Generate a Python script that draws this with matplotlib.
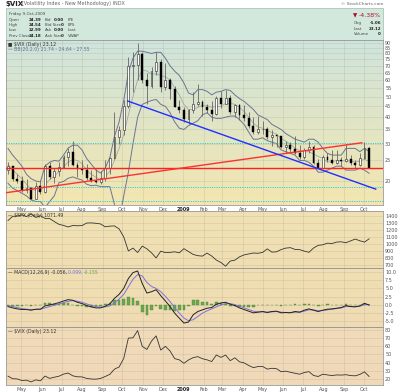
import numpy as np
import pandas as pd
import matplotlib
matplotlib.use("Agg")
import matplotlib.pyplot as plt
from matplotlib.patches import Rectangle

W, H = 400, 392

# Weekly samples (Friday of each week)
weeks = pd.date_range("2008-04-11", "2009-10-09", freq="W-FRI")

vix_close = [23.5, 20.4, 20.1,
             18.2, 18.6, 16.5, 19.0, 17.8,
             23.6, 20.8, 22.2, 23.4,
             26.0, 27.3, 23.9, 22.7,
             22.6, 20.7, 20.0, 19.8, 20.7,
             23.1, 25.7, 32.1, 34.7,
             45.1, 69.95, 70.3, 79.1, 59.9,
             56.1, 66.3, 72.7, 55.3,
             59.9, 54.3, 44.9, 43.4,
             39.2, 43.3, 46.1, 47.3, 44.8,
             43.4, 41.3, 49.3, 46.4,
             49.3, 42.4, 45.9, 41.0,
             39.7, 36.5, 33.9, 35.2,
             35.3, 32.1, 33.1, 32.6, 28.9,
             29.6, 28.2, 27.0, 25.9,
             27.95, 29.0, 24.3, 23.1, 25.9,
             25.0, 24.2, 25.0, 24.8,
             25.3, 24.2, 23.9, 25.6,
             28.7, 23.12]
vix_high = [24.5, 23.5, 21.5,
            21.0, 20.5, 18.8, 19.8, 20.2,
            24.0, 24.5, 23.0, 24.5,
            26.6, 28.5, 31.0, 24.5,
            25.0, 24.0, 22.5, 22.8, 22.4,
            25.0, 26.0, 42.2, 36.5,
            48.4, 76.9, 81.2, 89.5, 81.0,
            64.5, 69.0, 81.5, 75.0,
            72.0, 61.0, 56.0, 48.0,
            44.5, 43.5, 52.6, 57.4, 48.0,
            46.0, 47.5, 50.3, 53.0,
            53.7, 51.0, 46.0, 46.0,
            45.5, 42.5, 40.0, 40.5,
            38.5, 36.0, 34.8, 33.5, 32.7,
            31.0, 30.5, 32.5, 29.5,
            28.5, 31.0, 29.5, 25.5, 26.5,
            27.0, 28.0, 28.0, 26.0,
            30.0, 26.5, 25.0, 27.0,
            30.7, 28.8]
vix_low = [21.5, 20.0, 19.5,
           17.8, 17.5, 16.3, 16.4, 17.4,
           17.6, 20.4, 19.5, 21.0,
           23.0, 23.5, 23.5, 20.8,
           21.5, 20.3, 19.8, 19.6, 19.4,
           20.0, 21.5, 25.5, 30.0,
           33.0, 44.0, 52.5, 60.0, 58.0,
           46.0, 55.0, 63.0, 52.5,
           54.0, 49.0, 44.5, 42.0,
           38.0, 37.0, 42.0, 45.0, 40.5,
           42.0, 38.5, 41.0, 44.0,
           46.0, 41.5, 40.0, 39.0,
           38.5, 35.5, 33.5, 33.5,
           33.5, 31.5, 29.3, 28.8, 28.5,
           27.2, 27.5, 26.8, 25.5,
           25.5, 27.0, 24.0, 23.0, 23.0,
           24.5, 24.0, 24.0, 23.5,
           24.5, 23.8, 23.0, 23.5,
           25.3, 22.99]
first_open = 22.5

bb_upper = [28.5, 26.5, 25.0,
            23.5, 21.5, 20.5, 20.0, 19.8,
            23.5, 24.5, 25.0, 24.8,
            26.5, 28.6, 29.5, 29.5,
            28.0, 25.5, 24.0, 22.5, 21.8,
            23.0, 25.8, 32.5, 38.0,
            48.0, 65.0, 76.0, 82.0, 82.0,
            81.0, 80.0, 81.0, 81.0,
            76.0, 70.0, 66.0, 63.0,
            58.0, 52.0, 51.0, 54.0, 54.0,
            53.0, 51.0, 52.5, 53.0,
            54.0, 53.5, 51.0, 49.0,
            47.5, 45.5, 43.5, 41.0,
            40.0, 39.0, 37.0, 36.0, 35.0,
            33.5, 32.5, 31.5, 31.0,
            30.5, 31.5, 31.5, 30.5, 28.5,
            27.0, 26.5, 26.5, 26.5,
            28.5, 28.5, 28.5, 27.5,
            28.5, 27.55]
bb_mid = [24.0, 22.5, 21.5,
          20.5, 19.3, 18.4, 18.0, 17.9,
          19.2, 20.3, 21.0, 22.2,
          23.2, 24.6, 25.2, 25.0,
          24.1, 22.4, 21.5, 20.8, 20.3,
          20.9, 22.3, 25.0, 28.5,
          33.0, 41.0, 50.0, 60.0, 67.0,
          66.0, 64.0, 64.0, 63.0,
          62.0, 60.0, 55.0, 51.0,
          46.0, 43.5, 43.5, 44.5, 45.5,
          45.5, 44.5, 45.0, 45.0,
          46.5, 46.5, 46.0, 44.5,
          42.5, 40.0, 37.5, 36.0,
          35.5, 34.5, 33.9, 33.3, 31.7,
          30.8, 29.8, 28.5, 27.8,
          27.4, 27.5, 26.8, 26.1, 25.6,
          24.6, 24.6, 25.0, 24.8,
          25.0, 24.8, 24.6, 24.8,
          25.4, 24.64]
bb_lower = [19.5, 18.5, 18.0,
            17.5, 17.0, 16.3, 16.0, 16.0,
            15.0, 16.0, 17.0, 19.6,
            19.9, 20.6, 20.9, 20.5,
            20.2, 19.3, 19.0, 19.1, 18.8,
            18.8, 18.8, 15.5, 13.0,
            17.0, 22.0, 30.0, 40.0, 46.0,
            47.0, 48.0, 48.5, 46.0,
            45.0, 42.0, 38.0, 35.5,
            35.0, 36.5, 37.5, 38.5, 41.0,
            42.0, 40.0, 39.5, 39.5,
            40.0, 40.5, 40.5, 39.0,
            37.0, 34.0, 31.5, 31.5,
            32.0, 31.0, 30.5, 30.0, 28.0,
            27.5, 27.0, 26.5, 25.0,
            25.0, 24.5, 23.5, 22.0, 22.0,
            22.5, 23.0, 23.5, 23.5,
            22.5, 22.5, 22.5, 23.0,
            22.5, 21.74]

spx_close = [1332, 1390, 1397,
             1413, 1388, 1425, 1375, 1400,
             1361, 1360, 1317, 1278,
             1262, 1240, 1261, 1257,
             1260, 1296, 1298, 1292, 1283,
             1242, 1252, 1255, 1213,
             1099, 899, 940, 877, 968,
             930, 873, 800, 896,
             876, 879, 887, 872,
             932, 890, 850, 832, 826,
             869, 827, 770, 735,
             683, 756, 768, 816,
             843, 857, 870, 866,
             878, 929, 883, 887, 919,
             940, 946, 921, 918,
             897, 880, 941, 979, 987,
             1010, 1005, 1026, 1029,
             1016, 1042, 1068, 1044,
             1025, 1071.49]

macd_line = [-0.5, -0.9, -1.2,
             -1.4, -1.4, -1.6, -1.3, -1.3,
             -0.3, 0.0, 0.3, 0.7,
             1.2, 1.6, 1.4, 0.8,
             0.4, -0.2, -0.6, -0.9, -0.9,
             -0.4, 0.3, 2.0, 3.2,
             5.0, 8.0, 9.8, 10.3, 6.5,
             3.6, 4.0, 4.6, 2.8,
             1.2, -0.5, -2.5, -4.0,
             -5.5, -5.2, -3.0, -2.0, -1.5,
             -1.0, -0.8, 0.2, 0.6,
             0.8, 0.2, -0.2, -0.9,
             -1.4, -1.9, -2.4, -2.2,
             -2.0, -2.3, -2.0, -1.9, -2.4,
             -2.3, -2.4, -2.0, -2.2,
             -1.6, -1.2, -1.6, -2.0, -1.6,
             -1.3, -1.2, -1.0, -0.8,
             -0.2, -0.5, -0.6, -0.3,
             0.5, -0.056]
macd_signal = [-0.2, -0.5, -0.8,
               -1.1, -1.3, -1.4, -1.4, -1.3,
               -0.9, -0.5, -0.1, 0.3,
               0.7, 1.1, 1.3, 1.1,
               0.8, 0.3, -0.1, -0.5, -0.7,
               -0.6, -0.3, 0.6, 1.8,
               3.2, 5.5, 7.8, 9.2, 8.8,
               6.8, 5.6, 5.0, 4.0,
               2.6, 1.0, -0.8, -2.5,
               -4.0, -4.8, -4.5, -3.5, -2.5,
               -1.8, -1.2, -0.6, 0.0,
               0.4, 0.4, 0.1, -0.4,
               -0.9, -1.4, -1.9, -2.1,
               -2.1, -2.2, -2.1, -2.0, -2.2,
               -2.3, -2.3, -2.2, -2.2,
               -1.9, -1.5, -1.5, -1.8, -1.7,
               -1.5, -1.3, -1.1, -0.9,
               -0.5, -0.5, -0.5, -0.4,
               0.1, 0.099]

# annotation lines drawn on the price panel
red_flat = 23.1
red_trend_dates = ["2008-04-08", "2009-09-28"]
red_trend_vals = [17.6, 30.3]
blue_trend_dates = ["2008-10-09", "2009-10-19"]
blue_trend_vals = [47.7, 18.3]
cyan_levels = [30.2, 18.7, 16.1]

main_ticks = [20, 25, 30, 35, 40, 45, 50, 55, 60, 65, 70, 75, 80, 85, 90]
spx_ticks = [700, 800, 900, 1000, 1100, 1200, 1300, 1400]
macd_ticks = [-5.0, -2.5, 0.0, 2.5, 5.0, 7.5, 10.0]
vix_ticks = [20, 30, 40, 50, 60, 70, 80]

x_start, x_end = pd.Timestamp("2008-04-08"), pd.Timestamp("2009-10-30")
months = pd.date_range("2008-05-01", "2009-10-01", freq="MS")

fig = plt.figure(figsize=(4, 3.92), dpi=100)


def rect(x0, y0, x1, y1):
    return [x0 / W, 1 - y1 / H, (x1 - x0) / W, (y1 - y0) / H]


def fx(x, y):
    return x / W, 1 - y / H


def panel(r, top, bottom):
    bg = fig.add_axes(r, zorder=0)
    c0 = np.array(matplotlib.colors.to_rgb(top))
    c1 = np.array(matplotlib.colors.to_rgb(bottom))
    t = np.linspace(0, 1, 64)[:, None, None]
    bg.imshow(c0 + (c1 - c0) * t, aspect="auto", extent=[0, 1, 0, 1])
    bg.axis("off")
    ax = fig.add_axes(r, zorder=1)
    ax.set_facecolor("none")
    ax.set_xlim(x_start, x_end)
    ax.set_xticks(months)
    ax.yaxis.tick_right()
    ax.tick_params(length=0, labelsize=3.5, colors="#555555", pad=1.5)
    ax.grid(True, color="#a8a890", alpha=0.35, lw=0.5)
    for s in ax.spines.values():
        s.set_color("#9a9a9a")
        s.set_linewidth(0.6)
    return ax


def month_labels(ax):
    labs = ["2009" if m.month == 1 else m.strftime("%b") for m in months]
    ax.set_xticklabels(labs)
    for lab, m in zip(ax.get_xticklabels(), months):
        if m.month == 1:
            lab.set_fontweight("bold")
            lab.set_color("#222222")


# title and header block
fig.text(*fx(6, 4), "$VIX", fontsize=5, fontweight="bold", va="center", color="#222222")
fig.text(*fx(22, 4), "(Volatility Index - New Methodology) INDX", fontsize=3.5,
         va="center", color="#666666")
fig.text(*fx(383, 4), "© StockCharts.com", fontsize=3.2, va="center", ha="right",
         color="#666666")
fig.patches.append(Rectangle(fx(6, 40), 377 / W, 32 / H, transform=fig.transFigure,
                             facecolor="#d3e8dc", edgecolor="#a0bcae", lw=0.5, zorder=0))
fs = 2.9
fig.text(*fx(9, 14), "Friday 9-Oct-2009", fontsize=fs, va="center", color="#444444")
rows = [("Open", "24.39", "Bid", "0.00", "P/E"),
        ("High", "24.54", "Bid Size", "0", "EPS"),
        ("Low", "22.99", "Ask", "0.00", "Last"),
        ("Prev Close", "24.18", "Ask Size", "0", "VWAP")]
for i, (a, b, c, d, e) in enumerate(rows):
    y = 20 + i * 5.2
    fig.text(*fx(9, y), a, fontsize=fs, va="center", color="#444444")
    fig.text(*fx(41, y), b, fontsize=fs, va="center", ha="right", fontweight="bold", color="#222222")
    fig.text(*fx(45, y), c, fontsize=fs, va="center", color="#444444")
    fig.text(*fx(64, y), d, fontsize=fs, va="center", ha="right", fontweight="bold", color="#222222")
    fig.text(*fx(68, y), e, fontsize=fs, va="center", color="#444444")
fig.text(*fx(353, 15.5), "▼", fontsize=4, va="center", color="#b0102a")
fig.text(*fx(381, 15.5), "-4.38%", fontsize=4.5, va="center", ha="right", color="#b0102a")
for i, (a, b) in enumerate([("Chg", "-1.06"), ("Last", "23.12"), ("Volume", "0")]):
    y = 23 + i * 5.5
    fig.text(*fx(354, y), a, fontsize=fs, va="center", color="#444444")
    fig.text(*fx(381, y), b, fontsize=fs, va="center", ha="right", fontweight="bold", color="#222222")

# main VIX panel
ax = panel(rect(6, 40, 383, 205), "#cfe4dc", "#f3e6b0")
ax.set_yscale("log")
ax.set_ylim(15.4, 92.6)
ax.set_yticks(main_ticks)
ax.set_yticklabels([str(v) for v in main_ticks])
ax.yaxis.set_minor_locator(matplotlib.ticker.NullLocator())
month_labels(ax)

opens = [first_open] + vix_close[:-1]
ax.vlines(weeks, vix_low, vix_high, color="#666666", lw=0.6, zorder=3)
for d, o, c in zip(weeks, opens, vix_close):
    lo, hi = min(o, c), max(o, c)
    if c < o:
        ax.bar(d, hi - lo, bottom=lo, width=2.8, color="black", edgecolor="black", lw=0.3, zorder=4)
    else:
        ax.bar(d, hi - lo, bottom=lo, width=2.8, color="white", edgecolor="#222222", lw=0.4, zorder=4)

ax.plot(weeks, bb_upper, color="#6c7494", lw=0.7, zorder=2)
ax.plot(weeks, bb_lower, color="#6c7494", lw=0.7, zorder=2)
ax.plot(weeks, bb_mid, color="#9a9aa8", lw=0.5, zorder=2)

for lv in cyan_levels:
    ax.axhline(lv, color="#30d0d8", lw=0.7, ls=(0, (1.2, 1.2)), zorder=2)
ax.axhline(red_flat, color="#ff2020", lw=1.0, zorder=5)
ax.plot(pd.to_datetime(red_trend_dates), red_trend_vals, color="#ff3030", lw=1.0, zorder=5)
ax.plot(pd.to_datetime(blue_trend_dates), blue_trend_vals, color="#2030ff", lw=1.0, zorder=5)
ax.set_xlim(x_start, x_end)

ax.text(0.004, 0.985, "■ $VIX (Daily) 23.12", transform=ax.transAxes, fontsize=3.3,
        va="top", color="#333333")
ax.text(0.004, 0.955, "— BB(20,2.0) 21.74 - 24.64 - 27.55", transform=ax.transAxes,
        fontsize=3.3, va="top", color="#6070a0")

# SPX panel
ax2 = panel(rect(6, 211, 383, 268), "#f0e2b4", "#f0deb2")
ax2.plot(weeks, spx_close, color="#333333", lw=0.6)
ax2.set_ylim(657, 1467)
ax2.set_yticks(spx_ticks)
ax2.set_xticklabels([])
ax2.text(0.004, 0.97, "— $SPX (Daily) 1071.49", transform=ax2.transAxes, fontsize=3.3,
         va="top", color="#333333")

# MACD panel
ax3 = panel(rect(6, 268, 383, 327), "#f0dfb2", "#f0dbb4")
hist = np.array(macd_line) - np.array(macd_signal)
ax3.bar(weeks, hist, width=4.0, color="#6aa84f", edgecolor="#4f8a3a", lw=0.3, zorder=2)
ax3.plot(weeks, macd_signal, color="#8070e0", lw=0.7, zorder=3)
ax3.plot(weeks, macd_line, color="#222222", lw=0.7, zorder=4)
ax3.set_ylim(-6.7, 11.2)
ax3.set_yticks(macd_ticks)
ax3.set_yticklabels([f"{v:.1f}" for v in macd_ticks])
ax3.set_xticklabels([])
t1 = ax3.text(0.004, 0.97, "— MACD(12,26,9) -0.056, ", transform=ax3.transAxes,
              fontsize=3.3, va="top", color="#333333")
t2 = ax3.annotate("0.099, ", xy=(1, 0), xycoords=t1, fontsize=3.3, va="bottom", color="#8070e0")
ax3.annotate("-0.155", xy=(1, 0), xycoords=t2, fontsize=3.3, va="bottom", color="#6aa84f")

# lower VIX line panel
ax4 = panel(rect(6, 327, 383, 385), "#f1dbb8", "#f0d8b8")
ax4.plot(weeks, vix_close, color="#333333", lw=0.6)
ax4.set_ylim(12.7, 83.5)
ax4.set_yticks(vix_ticks)
month_labels(ax4)
ax4.text(0.004, 0.97, "— $VIX (Daily) 23.12", transform=ax4.transAxes, fontsize=3.3,
         va="top", color="#333333")

fig.savefig("out.png", dpi=100)
